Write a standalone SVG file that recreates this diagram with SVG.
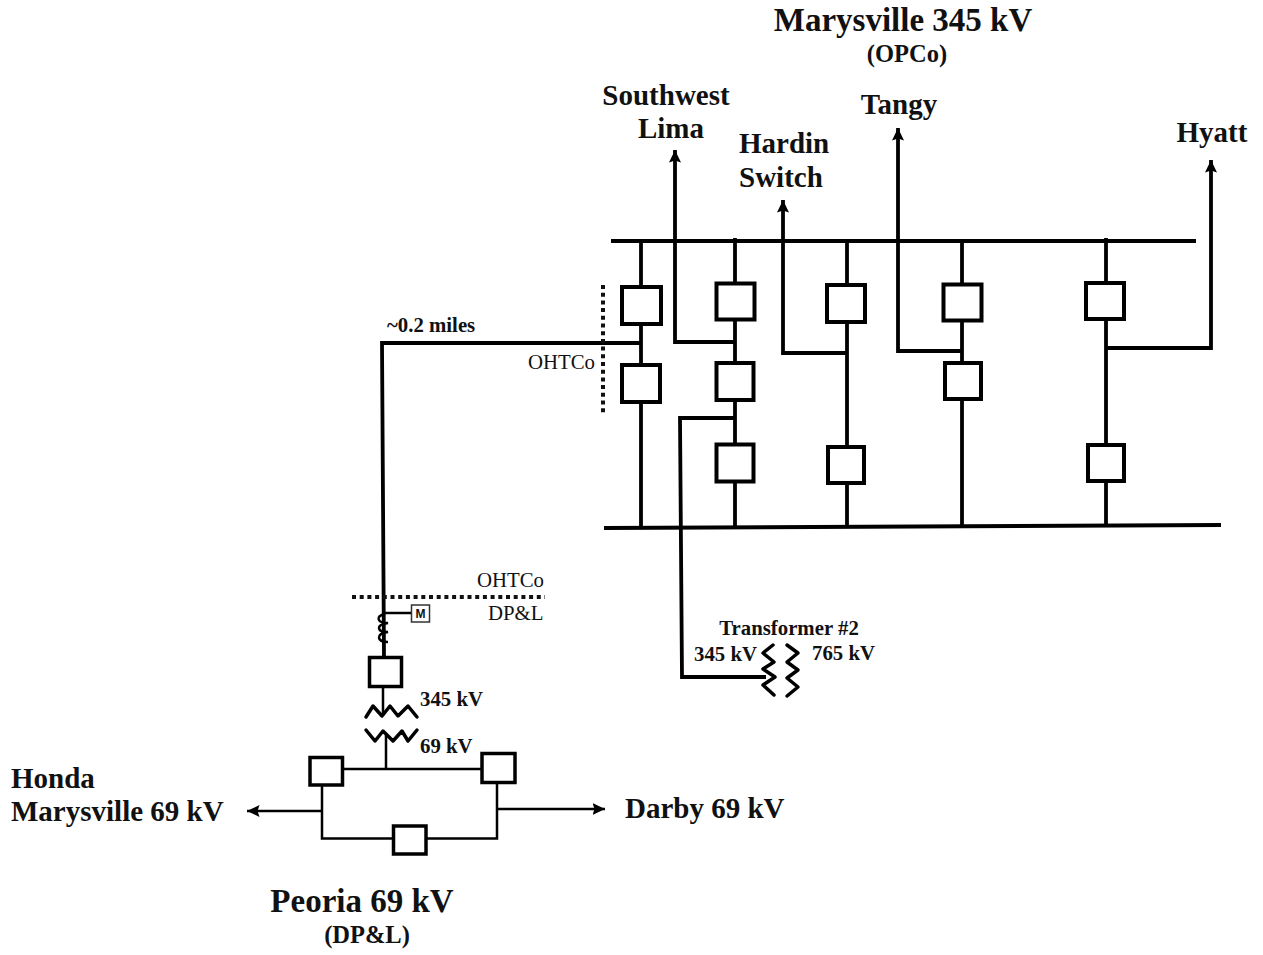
<svg xmlns="http://www.w3.org/2000/svg" width="1263" height="955" viewBox="0 0 1263 955">
<defs>
<marker id="arrow" markerUnits="userSpaceOnUse" markerWidth="14" markerHeight="14" refX="12.500" refY="7" orient="auto"><path d="M0,1 L12.500,7 L0,13 L2,7 Z" fill="#000"/></marker>
</defs>
<style>
text{font-family:"Liberation Serif","Times New Roman",serif;fill:#111}
.b{font-weight:bold}
.t1{font-size:33px}.t2{font-size:29px}.t3{font-size:24.5px}.t4{font-size:20.8px}
.m{text-anchor:middle}
.w{fill:none;stroke:#000;stroke-width:3.8}
.z{fill:none;stroke:#000;stroke-width:3.5;stroke-linejoin:round;stroke-linecap:round}
.bus{fill:none;stroke:#000;stroke-width:4}
.thin{fill:none;stroke:#000;stroke-width:2.5}
.dot{fill:none;stroke:#111;stroke-width:4;stroke-dasharray:4 3.7}
.brk{fill:#fff;stroke:#000;stroke-width:4}
.sm{fill:#fff;stroke:#000;stroke-width:3.5}
</style>
<rect width="1263" height="955" fill="#fff"/>
<g id="connectors">
<path class="bus" d="M611,241H1196"/>
<path class="bus" d="M604,528L1221,525"/>
<path class="w" d="M641,241V526M735,238V526M847,241V526M962,241V526M1106,238V526"/>
<path class="w" d="M1106,348H1211V160" marker-end="url(#arrow)"/>
<path class="w" d="M735,342H675V150" marker-end="url(#arrow)"/>
<path class="w" d="M847,353H783V200" marker-end="url(#arrow)"/>
<path class="w" d="M962,351H898V128" marker-end="url(#arrow)"/>
<path class="w" d="M735,418H680L682,677H766"/>
<path class="w" d="M640,343H382L384,657"/>
<path class="dot" d="M603,285V415"/>
<path class="dot" d="M352,597H545"/>
<path class="thin" d="M384,613H411"/>
<path class="thin" d="M383,687V716M386,735V769M343,769H481M322,786V838.500H393M426,838.500H497V783"/>
<path class="thin" d="M322,811H247" marker-end="url(#arrow)"/>
<path class="thin" d="M497,809H605" marker-end="url(#arrow)"/>
</g>
<g id="transformer-2">
<path class="z" d="M773,645L763,653L774,662L763,669L775,677L763,685L774,695"/>
<path class="z" d="M787,645L798,653L787,662L798,670L787,678L798,687L787,696"/>
<text class="b t4 m" x="789" y="635">Transformer #2</text>
<text class="b t4" x="694" y="661">345 kV</text>
<text class="b t4" x="812" y="660">765 kV</text>
</g>
<g id="meter">
<rect x="411.500" y="605" width="18" height="17" fill="#fff" stroke="#333" stroke-width="1.5"/>
<text class="b" style="font-family:'Liberation Sans',sans-serif;font-size:12px" x="420.500" y="618" text-anchor="middle">M</text>
</g>
<g id="ct">
<path class="thin" d="M385,614C375,616 377,623 388,623C375,625 377,632 388,632C375,634 377,642 388,642"/>
</g>
<g id="peoria-transformer">
<path class="z" d="M366,717L373,706L382,716L390,706L398,716L408,706L417,717"/>
<path class="z" d="M366,730L375,741L383,731L393,741L402,731L408,741L417,730"/>
<text class="b t4" x="420" y="706">345 kV</text>
<text class="b t4" x="420" y="753">69 kV</text>
</g>
<g id="brk1"><rect class="brk" x="622" y="287" width="39" height="37"/></g>
<g id="brk2"><rect class="brk" x="622" y="365" width="38" height="37"/></g>
<g id="brk3"><rect class="brk" x="716.500" y="283.500" width="38" height="36"/></g>
<g id="brk4"><rect class="brk" x="716.500" y="363" width="37" height="37"/></g>
<g id="brk5"><rect class="brk" x="716.500" y="444.500" width="37" height="37"/></g>
<g id="brk6"><rect class="brk" x="827" y="285" width="38" height="37"/></g>
<g id="brk7"><rect class="brk" x="828" y="447" width="36" height="36"/></g>
<g id="brk8"><rect class="brk" x="943.500" y="284.500" width="38" height="36"/></g>
<g id="brk9"><rect class="brk" x="945" y="363" width="36" height="36"/></g>
<g id="brk10"><rect class="brk" x="1086" y="283" width="38" height="36"/></g>
<g id="brk11"><rect class="brk" x="1088" y="445" width="36" height="36"/></g>
<g id="brk12"><rect class="sm" x="369.500" y="657.500" width="32" height="29"/></g>
<g id="brk13"><rect class="sm" x="310" y="757.500" width="32.500" height="27.500"/></g>
<g id="brk14"><rect class="sm" x="482" y="753.500" width="33" height="29"/></g>
<g id="brk15"><rect class="sm" x="393.500" y="826" width="32.500" height="28"/></g>
<g id="labels">
<text class="b t1 m" x="903" y="31">Marysville 345 kV</text>
<text class="b t3 m" x="907" y="62">(OPCo)</text>
<text class="b t2 m" x="666" y="105">Southwest</text>
<text class="b t2 m" x="671" y="138">Lima</text>
<text class="b t2" x="739" y="153">Hardin</text>
<text class="b t2" x="739" y="187">Switch</text>
<text class="b t2 m" x="899" y="114">Tangy</text>
<text class="b t2 m" x="1212" y="142">Hyatt</text>
<text class="b t4" x="387" y="332">~0.2 miles</text>
<text class="t4" x="528" y="369">OHTCo</text>
<text class="t4" x="477" y="587">OHTCo</text>
<text class="t4" x="488" y="620">DP&amp;L</text>
<text class="b t2" x="11" y="788">Honda</text>
<text class="b t2" x="11" y="821">Marysville 69 kV</text>
<text class="b t2" x="625" y="818">Darby 69 kV</text>
<text class="b t1 m" x="362" y="912">Peoria 69 kV</text>
<text class="b t3 m" x="367" y="943">(DP&amp;L)</text>
</g>
</svg>
